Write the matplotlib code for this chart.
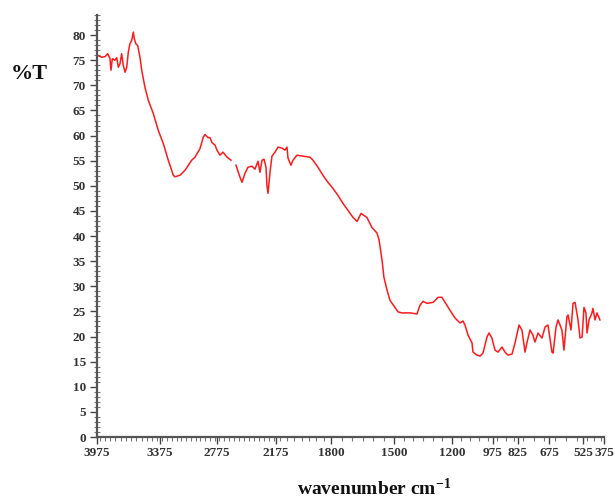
import numpy as np
import matplotlib
matplotlib.use('Agg')
from matplotlib import pyplot as plt
from matplotlib.ticker import MultipleLocator, FixedLocator, NullFormatter

# tick wavenumbers and where they sit along the (stretched) x axis
tick_wn = [3975, 3375, 2775, 2175, 1800, 1500, 1200, 975, 825, 675, 525, 375]
tick_pos = [97, 160, 217, 276, 331, 394, 452, 493, 518, 549, 583, 604]

# FTIR spectrum, wavenumber (cm-1) and transmittance (%T)
wavenumber = [
    3975, 3963, 3930, 3899, 3873, 3851, 3842, 3829, 3804, 3787,
    3772, 3756, 3740, 3725, 3708, 3692, 3677, 3661, 3645, 3629,
    3620, 3606, 3587, 3575, 3566, 3549, 3518, 3486, 3439, 3391,
    3340, 3288, 3235, 3217, 3165, 3112, 3041, 3007, 2954, 2919,
    2901, 2870, 2849, 2828, 2796, 2775, 2745, 2714, 2673, 2633,
    2610,
    2582, 2541, 2521, 2490, 2460, 2419, 2389, 2358, 2338, 2317,
    2297, 2277, 2267, 2256, 2236, 2216, 2185, 2161, 2134, 2114,
    2100, 2093, 2073, 2059, 2032, 1991, 1943, 1923, 1889, 1855,
    1821, 1791, 1767, 1743, 1719, 1695, 1676, 1657, 1629, 1605,
    1581, 1571, 1557, 1548, 1533, 1519, 1495, 1479, 1459, 1417,
    1381, 1366, 1350, 1329, 1298, 1272, 1252, 1236, 1210, 1184,
    1156, 1140, 1129, 1112, 1090, 1085, 1063, 1046, 1030, 1008,
    997, 981, 963, 945, 921, 903, 885, 861, 843, 820,
    806, 791, 782, 767, 753, 743, 728, 709, 694, 680,
    662, 657, 644, 635, 618, 609, 596, 591, 578, 569,
    560, 547, 538, 529, 518, 504, 496, 482, 461, 454,
    439, 425, 404,
]
transmittance = [
    76.1, 75.9, 75.6, 75.7, 76.3, 75.3, 73.0, 75.3, 75.0, 75.5,
    73.6, 74.3, 76.3, 74.0, 72.6, 73.6, 76.6, 78.3, 78.9, 80.6,
    79.3, 78.3, 77.9, 76.6, 75.6, 73.0, 69.6, 67.0, 64.4, 61.0,
    58.4, 55.1, 52.1, 51.8, 52.1, 53.1, 55.1, 55.7, 57.4, 59.7,
    60.2, 59.6, 59.6, 58.6, 58.1, 57.1, 56.1, 56.7, 55.7, 55.1,
    np.nan,
    54.1, 51.7, 50.7, 52.5, 53.7, 53.9, 53.3, 54.9, 52.7, 55.1,
    55.3, 53.7, 50.1, 48.5, 52.7, 55.9, 56.7, 57.7, 57.5, 57.1,
    57.7, 55.5, 54.1, 55.1, 56.1, 55.9, 55.7, 55.1, 53.7, 52.1,
    50.7, 49.5, 48.1, 46.5, 45.1, 43.7, 42.9, 44.5, 43.7, 41.7,
    40.6, 39.2, 35.2, 31.8, 29.2, 27.2, 25.8, 24.9, 24.7, 24.7,
    24.5, 26.2, 27.0, 26.6, 26.8, 27.8, 27.8, 26.8, 25.2, 23.7,
    22.7, 23.1, 22.3, 20.3, 18.7, 16.9, 16.3, 16.1, 16.7, 19.9,
    20.7, 19.7, 17.3, 16.9, 17.9, 16.9, 16.3, 16.5, 18.7, 22.3,
    21.3, 16.9, 18.7, 21.3, 20.3, 18.9, 20.7, 19.7, 21.9, 22.3,
    16.9, 16.7, 21.9, 23.3, 21.3, 17.3, 23.9, 24.3, 21.3, 26.6,
    26.8, 23.3, 19.7, 19.9, 25.8, 24.7, 20.7, 23.3, 24.7, 25.6,
    23.3, 24.7, 23.3,
]

y_ticks = list(range(0, 85, 5))

wn_asc = np.array(tick_wn[::-1], dtype=float)
pos_desc = np.array(tick_pos[::-1], dtype=float)


# piecewise-linear stretch of the wavenumber axis (increasing with w)
def forward(w):
    return -np.interp(w, wn_asc, pos_desc)


def inverse(p):
    return np.interp(-np.asarray(p, float), np.array(tick_pos, float),
                     np.array(tick_wn, float))


plt.rcParams['font.family'] = ['Liberation Serif', 'DejaVu Serif']
plt.rcParams['font.weight'] = 'bold'
plt.rcParams['mathtext.fontset'] = 'custom'
plt.rcParams['mathtext.rm'] = 'Liberation Serif:bold'
plt.rcParams['mathtext.default'] = 'rm'

fig = plt.figure(figsize=(6.16, 4.99), dpi=100)
ax = fig.add_axes([97 / 616, 62 / 499, 507 / 616, 422 / 499])
ax.set_xscale('function', functions=(forward, inverse))

ax.plot(wavenumber, transmittance, color='#ff1a1a', linewidth=1.1)

ax.set_xlim(3975, 375)
ax.set_ylim(0, 84)

ax.spines['top'].set_visible(False)
ax.spines['right'].set_visible(False)
for side in ('left', 'bottom'):
    ax.spines[side].set_color('#555555')
    ax.spines[side].set_linewidth(1.6)

ax.xaxis.set_major_locator(FixedLocator(tick_wn))
ax.set_xticklabels([str(t) for t in tick_wn])
ax.xaxis.set_minor_locator(MultipleLocator(50))
ax.xaxis.set_minor_formatter(NullFormatter())
ax.set_yticks(y_ticks)
ax.set_yticklabels([str(t) for t in y_ticks])
ax.yaxis.set_minor_locator(MultipleLocator(1))

ax.tick_params(axis='both', which='major', direction='out', length=5,
               width=1, color='#444444', labelsize=9.5, labelcolor='#333333')
ax.tick_params(axis='y', which='minor', direction='inout', length=5,
               width=0.8, color='#777777')
ax.tick_params(axis='x', which='minor', direction='out', length=3,
               width=0.8, color='#777777')
ax.tick_params(axis='x', which='major', pad=2)
ax.tick_params(axis='y', which='major', pad=3)

fig.text(29 / 616, 1 - 74 / 499, '%T', fontsize=16, fontweight='bold',
         ha='center', va='center', color='#111111')
fig.text(374 / 616, 1 - 489 / 499, 'wavenumber cm$^{-1}$', fontsize=14,
         fontweight='bold', ha='center', va='center', color='#111111')

fig.savefig('out.png', dpi=100)
